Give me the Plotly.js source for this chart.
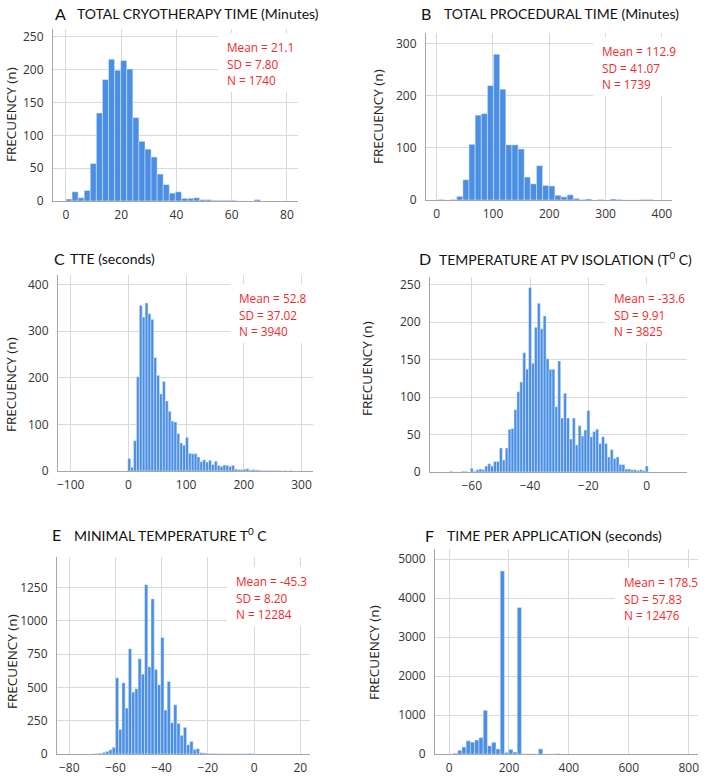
<!DOCTYPE html>
<html><head><meta charset="utf-8">
<script src="https://cdn.plot.ly/plotly-3.0.1.min.js"></script>
<style>html,body{margin:0;padding:0;background:#fff}#chart{width:709px;height:777px}</style>
</head><body><div id="chart"></div>
<script>
// ---------- DATA ----------
// A: total cryotherapy time (minutes)
const countsA = [3,14,5,16,57,134,185,216,199,214,201,127,91,79,67,41,25,12,14,4,4,5,2,2,1,1,1,1,0,0,0,2];
const binStartA = 0, binWidthA = 2.2;
const statsA = ["Mean = 21.1", "SD = 7.80", "N = 1740"];
// B: total procedural time (minutes)
const countsB = [1,0,1,7,39,107,163,166,220,280,213,106,106,98,44,31,66,28,27,9,6,10,3,1,2,0,1,0,2,1,0,0,0,1,1];
const binStartB = 2.9, binWidthB = 10.9;
const statsB = ["Mean = 112.9", "SD = 41.07", "N = 1739"];
// C: TTE (seconds)
const countsC = [27,8,65,202,355,330,360,337,325,243,205,165,192,150,128,107,105,80,60,55,72,38,37,37,30,20,24,19,23,14,21,12,10,13,12,10,12,4,3,3,4,5,2,3,2,2,1,1,1,1,1,1,1,0,1,0,1];
const binStartC = -1, binWidthC = 5;
const statsC = ["Mean = 52.8", "SD = 37.02", "N = 3940"];
// D: temperature at PV isolation (°C)
const countsD = [1,0,0,0,1,1,0,5,1,3,4,3,8,11,8,14,14,32,16,32,57,58,83,107,120,159,137,246,145,193,225,191,208,151,137,137,87,148,72,105,72,44,72,36,62,48,56,82,47,54,57,38,47,38,20,30,18,20,10,10,4,4,3,3,2,3,2,8];
const binStartD = -67.5, binWidthD = 1;
const statsD = ["Mean = -33.6", "SD = 9.91", "N = 3825"];
// E: minimal temperature (°C)
const countsE = [2,3,6,12,20,32,50,572,185,535,345,790,465,490,715,600,1272,655,1165,635,520,875,330,545,235,370,230,140,200,70,95,35,40,10,8,5,4,3,2,2,1,1,1,1,1,1,1,1,3,2];
const binStartE = -69.8, binWidthE = 1.4;
const statsE = ["Mean = -45.3", "SD = 8.20", "N = 12284"];
// F: time per application (seconds)
const countsF = [20,95,180,340,305,360,420,1120,210,300,130,4700,40,120,50,3760,5,3,2,0,130,0,2,0,10];
const binStartF = 14.5, binWidthF = 14.2;
const statsF = ["Mean = 178.5", "SD = 57.83", "N = 12476"];

const letters = ["A","B","C","D","E","F"];
const titles = [
  "TOTAL CRYOTHERAPY TIME (Minutes)",
  "TOTAL PROCEDURAL TIME (Minutes)",
  "TTE (seconds)",
  "TEMPERATURE AT PV ISOLATION (T<sup>0</sup> C)",
  "MINIMAL TEMPERATURE T<sup>0</sup> C",
  "TIME PER APPLICATION (seconds)"
];
const yLabel = "FRECUENCY (n)";

// ---------- LAYOUT ----------
const W = 709, H = 777;
const px = x => x / W;
const py = y => 1 - y / H;

const series = [
  {c: countsA, s: binStartA, w: binWidthA, st: statsA},
  {c: countsB, s: binStartB, w: binWidthB, st: statsB},
  {c: countsC, s: binStartC, w: binWidthC, st: statsC},
  {c: countsD, s: binStartD, w: binWidthD, st: statsD},
  {c: countsE, s: binStartE, w: binWidthE, st: statsE},
  {c: countsF, s: binStartF, w: binWidthF, st: statsF}
];

const P = [
  {l:53,  r:298, t:29,  b:201, xr:[-4.7,84],    yr:[0,262],  dx:20,  dy:50,   lx:53,  tx:75,  ty:13,  sx:225, sy:47,  yt:11,  yc:115, br:300},
  {l:426, r:672, t:33,  b:200, xr:[-19,418],    yr:[0,321],  dx:100, dy:100,  lx:419, tx:442, ty:13,  sx:600, sy:51,  yt:378, yc:116, br:674},
  {l:58,  r:313, t:275, b:471, xr:[-122,320],   yr:[0,420],  dx:100, dy:100,  lx:52,  tx:68,  ty:258, sx:237, sy:298, yt:11,  yc:385, br:315},
  {l:430, r:687, t:277, b:472, xr:[-74.3,13.8], yr:[0,260],  dx:20,  dy:50,   lx:417, tx:437, ty:258, sx:612, sy:298, yt:367, yc:369, br:689},
  {l:57,  r:310, t:557, b:754, xr:[-85.3,24.2], yr:[0,1480], dx:20,  dy:250,  lx:50,  tx:72,  ty:534, sx:234, sy:581, yt:12,  yc:662, br:312},
  {l:435, r:698, t:549, b:754, xr:[-47,831],    yr:[0,5263], dx:200, dy:1000, lx:423, tx:445, ty:535, sx:622, sy:582, yt:374, yc:652, br:700}
];

const FONT = "'Open Sans', sans-serif";
const TFONT = "Lato, sans-serif";
const traces = [];
const layout = {
  width: W, height: H,
  margin: {l:0, r:0, t:0, b:0},
  paper_bgcolor: "#ffffff", plot_bgcolor: "#ffffff",
  showlegend: false,
  bargap: 0,
  font: {family: FONT, color: "#333", size: 12},
  annotations: [],
  shapes: []
};

P.forEach((p, i) => {
  const k = i === 0 ? "" : String(i + 1);
  const d = series[i];
  const xs = d.c.map((_, j) => d.s + (j + 0.5) * d.w);
  traces.push({
    type: "bar", x: xs, y: d.c, width: d.w,
    xaxis: "x" + k, yaxis: "y" + k,
    marker: {color: "#4b8fe5", line: {color: "rgba(235,242,252,0.75)", width: 0.6}},
    hoverinfo: "x+y"
  });
  const axCommon = {
    showgrid: true, gridcolor: "#d9d9d9", gridwidth: 1,
    showline: true, linecolor: "#a6a6a6", linewidth: 1,
    zeroline: false, ticks: "", tickfont: {family: FONT, size: 12, color: "#333"},
    fixedrange: true
  };
  layout["xaxis" + k] = Object.assign({}, axCommon, {
    domain: [px(p.l), px(p.r)], range: p.xr, dtick: p.dx, tick0: 0,
    anchor: "y" + k, ticklabelstandoff: 3
  });
  layout["yaxis" + k] = Object.assign({}, axCommon, {
    domain: [py(p.b), py(p.t)], range: p.yr, dtick: p.dy, tick0: 0,
    anchor: "x" + k, ticklabelstandoff: 6
  });
  // panel letter + title
  layout.annotations.push({
    xref: "paper", yref: "paper", x: px(p.lx), y: py(p.ty), xanchor: "left", yanchor: "middle",
    text: letters[i], showarrow: false, font: {family: TFONT, size: 16, color: "#111"}
  });
  layout.annotations.push({
    xref: "paper", yref: "paper", x: px(p.tx), y: py(p.ty), xanchor: "left", yanchor: "middle",
    text: titles[i], showarrow: false, font: {family: TFONT, size: 14, color: "#111"}
  });
  // y-axis title
  layout.annotations.push({
    xref: "paper", yref: "paper", x: px(p.yt), y: py(p.yc), xanchor: "center", yanchor: "middle",
    text: yLabel, textangle: -90, showarrow: false, font: {family: FONT, size: 13.5, color: "#222"}
  });
  // stats box: white panel behind the three red lines
  layout.shapes.push({
    type: "rect", xref: "paper", yref: "paper", layer: "above",
    x0: px(p.sx - 7), x1: px(p.br), y0: py(p.sy + 45), y1: py(p.sy - 14),
    fillcolor: "#ffffff", line: {width: 0}
  });
  d.st.forEach((line, j) => {
    layout.annotations.push({
      xref: "paper", yref: "paper", x: px(p.sx), y: py(p.sy + j * 16.7), xanchor: "left", yanchor: "middle",
      align: "left", text: line, showarrow: false,
      font: {family: FONT, size: 11.8, color: "#f22a2a"}
    });
  });
});

Plotly.newPlot("chart", traces, layout, {staticPlot: true, displayModeBar: false});
</script>
</body></html>
